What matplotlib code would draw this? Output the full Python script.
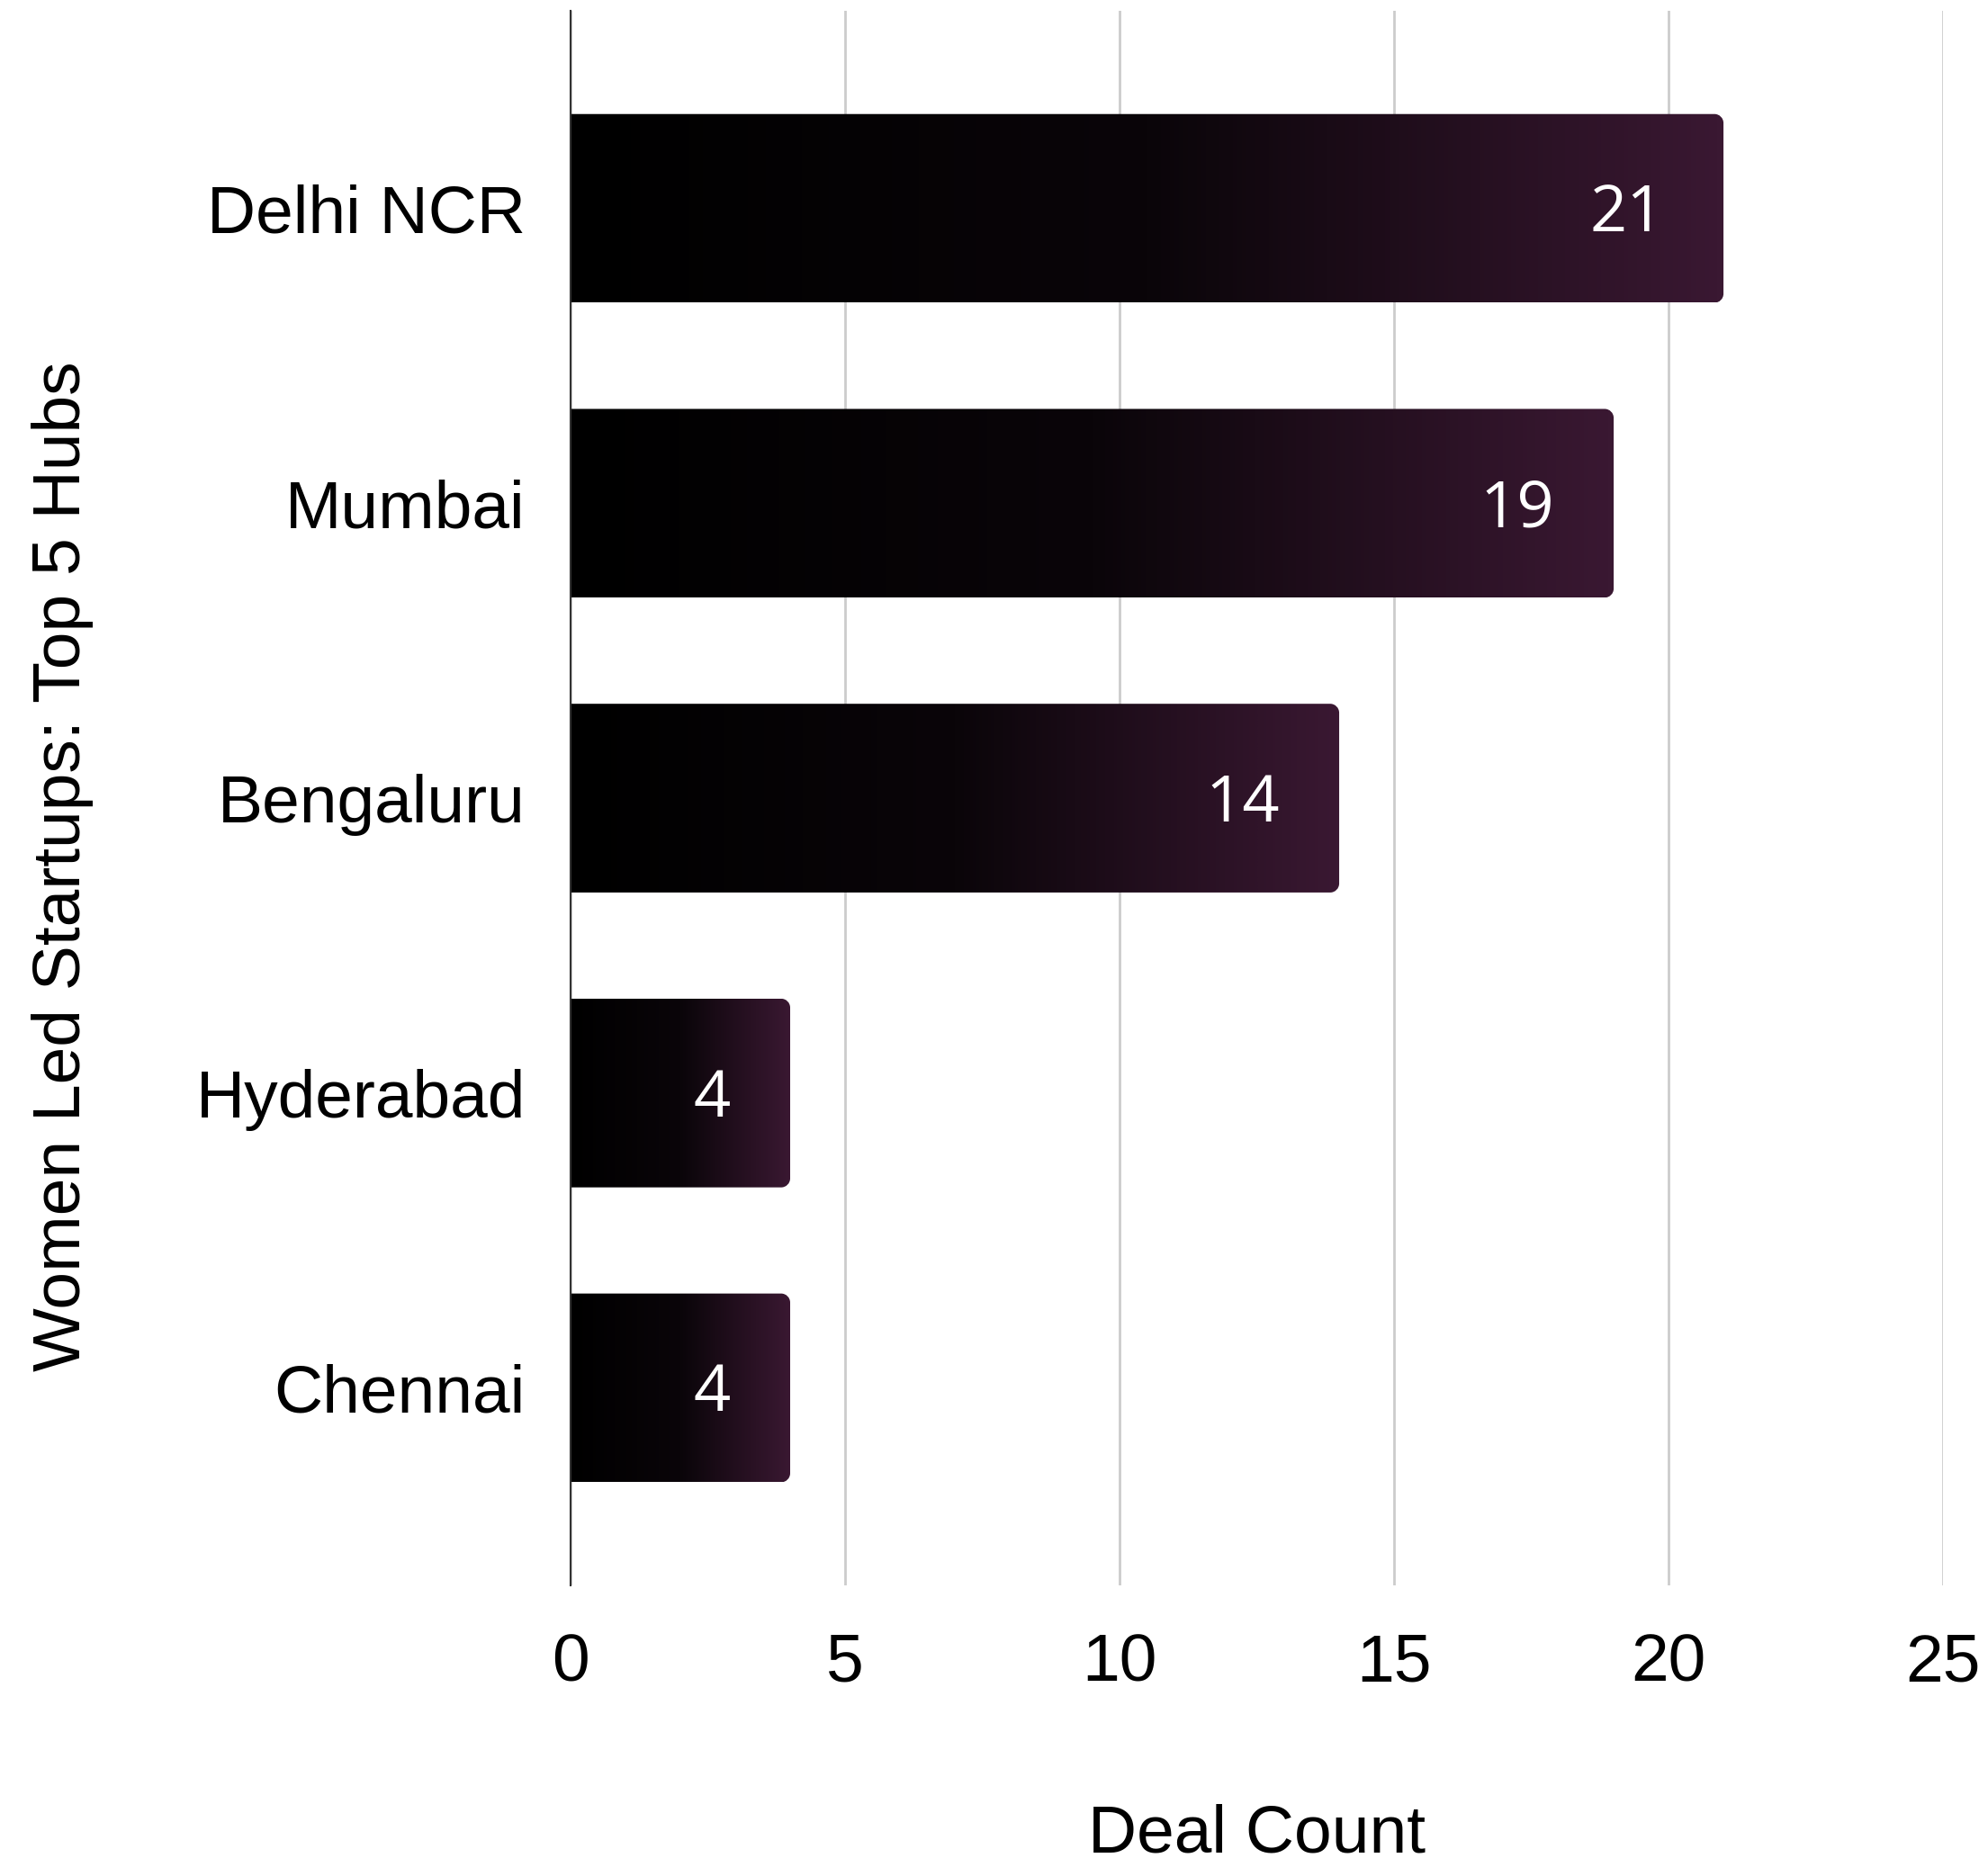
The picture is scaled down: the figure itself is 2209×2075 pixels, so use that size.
import numpy as np
import matplotlib
matplotlib.use("Agg")
import matplotlib.pyplot as plt
from matplotlib.path import Path
from matplotlib.colors import LinearSegmentedColormap

categories = ["Delhi NCR", "Mumbai", "Bengaluru", "Hyderabad", "Chennai"]
deal_counts = [21, 19, 14, 4, 4]
x_ticks = [0, 5, 10, 15, 20, 25]
x_label = "Deal Count"
y_label = "Women Led Startups: Top 5 Hubs"

DPI = 100
fig = plt.figure(figsize=(22.09, 20.75), dpi=DPI)
ax = fig.add_axes([0.287, 0.1508, 0.6904, 0.8434])

xmin, xmax = 0, 25
ymin, ymax = -0.67, len(categories) - 1 + 0.67
ax.set_xlim(xmin, xmax)
ax.set_ylim(ymax, ymin)

bar_h = 0.64
cmap = LinearSegmentedColormap.from_list("g", ["#000000", "#0a0509", "#3a1832"])
grad = np.linspace(0, 1, 256).reshape(1, -1)

fig.canvas.draw()
bbox = ax.get_window_extent()
px_per_x = bbox.width / (xmax - xmin)
px_per_y = bbox.height / (ymax - ymin)
r_px = 10
rx = r_px / px_per_x
ry = r_px / px_per_y
k = 0.5523

val_fs = 52
cap_px = 0.714 * val_fs * DPI / 72

for i, (cat, v) in enumerate(zip(categories, deal_counts)):
    y0 = i - bar_h / 2
    y1 = i + bar_h / 2
    verts = [
        (0, y0), (v - rx, y0),
        (v - rx + k * rx, y0), (v, y0 + ry - k * ry), (v, y0 + ry),
        (v, y1 - ry),
        (v, y1 - ry + k * ry), (v - rx + k * rx, y1), (v - rx, y1),
        (0, y1), (0, y0),
    ]
    codes = [Path.MOVETO, Path.LINETO,
             Path.CURVE4, Path.CURVE4, Path.CURVE4,
             Path.LINETO,
             Path.CURVE4, Path.CURVE4, Path.CURVE4,
             Path.LINETO, Path.CLOSEPOLY]
    path = Path(verts, codes)
    im = ax.imshow(grad, cmap=cmap, aspect="auto", extent=(0, v, y1, y0),
                   interpolation="bilinear", zorder=3)
    patch = matplotlib.patches.PathPatch(path, transform=ax.transData,
                                         facecolor="none", edgecolor="none")
    ax.add_patch(patch)
    im.set_clip_path(patch)
    ax.text(v - 66 / px_per_x, i + (cap_px / 2) / px_per_y, str(v),
            ha="right", va="baseline",
            color="white", fontsize=val_fs, family="Open Sans", zorder=4)

ax.set_xlim(xmin, xmax)
ax.set_ylim(ymax, ymin)
ax.set_yticks(range(len(categories)))
ax.set_yticklabels(categories)
ax.set_xticks(x_ticks)
ax.set_xticklabels([str(t) for t in x_ticks])

for side in ["top", "right", "bottom"]:
    ax.spines[side].set_visible(False)
ax.spines["left"].set_color("#333333")
ax.spines["left"].set_linewidth(1.5)
ax.spines["left"].set_zorder(5)

ax.grid(axis="x", color="#cccccc", linewidth=2)
ax.set_axisbelow(True)
ax.tick_params(axis="both", length=0, labelsize=54, labelcolor="black")
ax.tick_params(axis="x", pad=38)
ax.tick_params(axis="y", pad=36)
for lab in ax.get_xticklabels() + ax.get_yticklabels():
    lab.set_family("Liberation Sans")

ax.set_xlabel(x_label, fontsize=54, family="Liberation Sans", va="center")
ax.set_ylabel(y_label, fontsize=54, family="Liberation Sans", va="center")
ax.xaxis.set_label_coords(0.5, -(2039 - 1762) / 1750)
ax.yaxis.set_label_coords(-(634 - 70) / 1525, 0.457)

fig.savefig("out.png", dpi=DPI, facecolor="white")
